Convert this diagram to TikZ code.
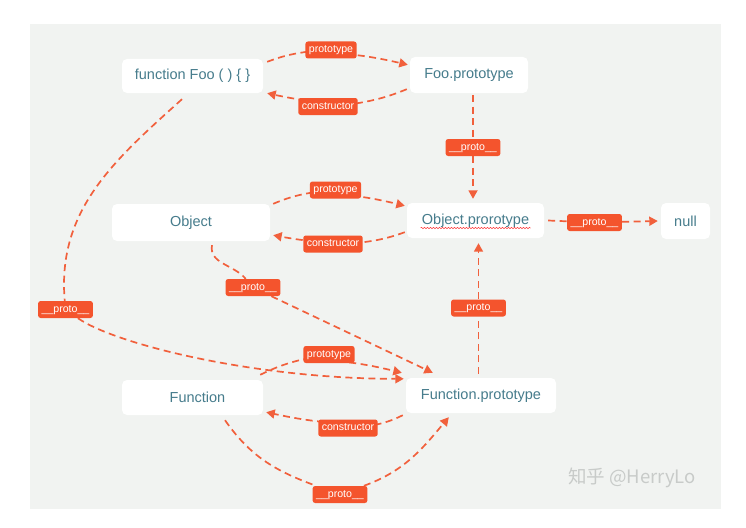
\documentclass[tikz,border=0pt]{standalone}
\usepackage{fontspec}
\setmainfont{Liberation Sans}
\newfontfamily\cjkfont{Noto Sans CJK SC}
\usetikzlibrary{arrows.meta,decorations.pathmorphing}
\definecolor{panel}{RGB}{241,243,241}
\definecolor{accent}{RGB}{244,84,45}
\definecolor{linecol}{RGB}{241,96,60}
\definecolor{tealtext}{RGB}{70,124,140}
\definecolor{wmark}{RGB}{200,203,201}
\pgfdeclarelayer{bglayer}
\pgfdeclarelayer{edges}
\pgfsetlayers{bglayer,edges,main}
\begin{document}
\begin{tikzpicture}[x=1pt,y=1pt,
  box/.style={fill=white, rounded corners=5pt, text=tealtext, font=\fontsize{14.5}{17}\selectfont, inner sep=0pt},
  tag/.style={fill=accent, rounded corners=2.5pt, text=white, font=\fontsize{10.6}{12}\selectfont, inner xsep=3.5pt, inner ysep=0pt, minimum height=17pt, text height=7.8pt, text depth=2.4pt},
  conn/.style={draw=linecol, line width=1.7pt, dash pattern=on 7pt off 4.5pt, -{Triangle[length=8.5pt,width=9pt]}},
]
\useasboundingbox (0,0) rectangle (746,-527);
\begin{pgfonlayer}{bglayer}
\fill[white] (0,0) rectangle (746,-527);
\fill[panel] (30,-24) rectangle (721,-509);
\end{pgfonlayer}

% boxes
\node[box, minimum width=141pt, minimum height=34pt] (foo) at (192.5,-76) {function Foo ( ) \{ \}};
\node[box, minimum width=118pt, minimum height=36pt] (foop) at (469,-75) {Foo.prototype};
\node[box, minimum width=158pt, minimum height=37pt] (obj) at (191,-222.5) {Object};
\node[box, minimum width=137pt, minimum height=35pt] (objp) at (475.5,-220.5) {Object.prorotype};
\node[box, minimum width=49pt, minimum height=36pt] (null) at (685.5,-221) {null};
\node[box, minimum width=141pt, minimum height=35pt] (fn) at (192.5,-397.5) {\hspace*{10pt}Function};
\node[box, minimum width=150pt, minimum height=35pt] (fnp) at (481,-395.5) {Function.prototype};

% spell-check underline
\draw[decorate, decoration={snake, amplitude=0.7pt, segment length=3pt}, draw=red!75, line width=0.5pt]
  ([shift={(-55,-7.5)}]objp.center) -- ([shift={(55,-7.5)}]objp.center);

% labels
\node[tag] (tp1) at (331,-50) {prototype};
\node[tag] (tc1) at (328,-106.5) {constructor};
\node[tag] (tf1) at (473,-147.5) {\_\_proto\_\_};
\node[tag] (tp2) at (335.5,-190) {prototype};
\node[tag] (tc2) at (333,-244) {constructor};
\node[tag] (tn) at (594.5,-222.5) {\_\_proto\_\_};
\node[tag] (tob) at (253,-287.5) {\_\_proto\_\_};
\node[tag] (tl) at (65.5,-309.5) {\_\_proto\_\_};
\node[tag] (tfo) at (478.5,-308) {\_\_proto\_\_};
\node[tag] (tp3) at (329,-354.5) {prototype};
\node[tag] (tc3) at (348,-428) {constructor};
\node[tag] (tb) at (340,-494.5) {\_\_proto\_\_};

% connectors
\begin{pgfonlayer}{edges}
\draw[conn] ([shift={(4,-3)}]foo.north east) to[bend left=6] (tp1) to[bend left=6] ([shift={(-2,-8)}]foop.north west);
\draw[conn] ([shift={(-3,4)}]foop.south west) to[bend left=6] (tc1) to[bend left=6] ([shift={(4,0)}]foo.south east);
\draw[conn] ([yshift=-2pt]tf1 |- foop.south) -- (tf1) -- ([yshift=4pt]tf1 |- objp.north);
\draw[conn] ([shift={(3,0)}]obj.north east) to[bend left=6] (tp2) to[bend left=6] ([shift={(-2,-3)}]objp.north west);
\draw[conn] ([shift={(-2,6)}]objp.south west) to[bend left=6] (tc2) to[bend left=6] ([shift={(3,6)}]obj.south east);
\draw[conn] ([xshift=4pt]objp.east) -- (tn) -- ([xshift=-3pt]null.west);
\draw[conn] ([shift={(21,-4)}]obj.south) to[out=-100,in=130] (tob) -- ([shift={(27,5)}]fnp.north west);
\draw[conn] ([shift={(-10.5,-6)}]foo.south) to[out=222,in=95] (tl) .. controls +(-35:60) and +(180:150) .. ([shift={(-2,-1)}]fnp.north west);
\draw[conn] ([yshift=4pt]tfo |- fnp.north) -- (tfo) -- ([yshift=-5pt]tfo |- objp.south);
\draw[conn] ([shift={(-3,5)}]fn.north east) to[bend left=6] (tp3) to[bend left=6] ([shift={(-4,5)}]fnp.north west);
\draw[conn] ([shift={(-3,-2)}]fnp.south west) to[bend left=6] (tc3) to[bend left=6] ([shift={(3,3)}]fn.south east);
\draw[conn] ([shift={(32.5,-5)}]fn.south) to[out=-55,in=160] (tb) to[out=20,in=-130] ([shift={(43,-4)}]fnp.south west);
\end{pgfonlayer}

% watermark
\node[font=\cjkfont\fontsize{18.5}{22}\selectfont, text=wmark] (wm) at (632,-478) {知乎 @HerryLo};
\end{tikzpicture}
\end{document}
